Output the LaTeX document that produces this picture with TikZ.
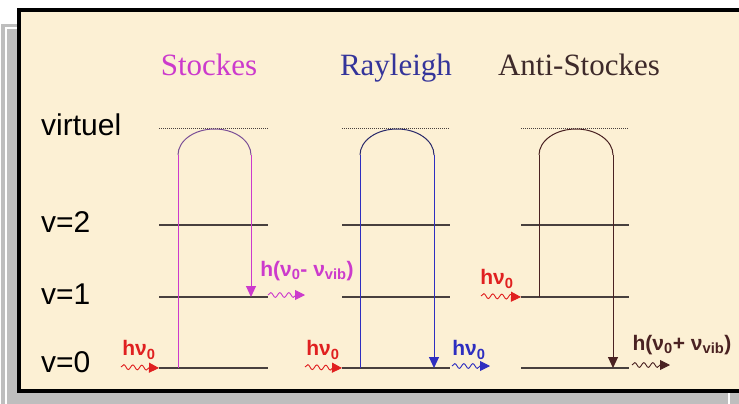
\documentclass[tikz,border=0pt]{standalone}
\usepackage{fontspec}
\setmainfont{Liberation Serif}
\newfontfamily\arialfont{Liberation Sans}
\usetikzlibrary{arrows.meta,decorations.pathmorphing}
\definecolor{cream}{HTML}{FCF0D4}
\definecolor{framegray}{HTML}{BEBEBE}
\definecolor{stkcol}{HTML}{CC3ACC}
\definecolor{stkarc}{HTML}{7A4E96}
\definecolor{raycol}{HTML}{2E2EC0}
\definecolor{raytitle}{HTML}{34349A}
\definecolor{rayarc}{HTML}{2A2A6A}
\definecolor{antcol}{HTML}{4A2222}
\definecolor{anttitle}{HTML}{3E2A2A}
\definecolor{photred}{HTML}{E02020}
\definecolor{levelcol}{HTML}{48403E}
\tikzset{
  level/.style={levelcol,line width=1.3pt},
  virt/.style={levelcol,densely dotted,line width=1pt},
  lvlabel/.style={font=\arialfont\fontsize{30}{30}\selectfont,anchor=base west,inner sep=0pt},
  title/.style={font=\fontsize{31}{31}\selectfont,anchor=base,inner sep=0pt},
  hlabel/.style={font=\arialfont\bfseries\fontsize{21}{21}\selectfont,inner sep=0pt},
  photon/.style={-{Triangle[length=10pt,width=10pt]},line width=0.9pt,decorate,
    decoration={snake,amplitude=2.4pt,segment length=9pt,post length=7pt}},
  fall/.style={-{Triangle[length=11pt,width=10pt]},line width=1pt},
  rise/.style={line width=1pt},
  hump/.style={line width=1pt},
}
\begin{document}
\begin{tikzpicture}[x=1pt,y=-1pt]
  \useasboundingbox (0,0) rectangle (739,404);
  % Frame
  \fill[framegray] (1,24) rectangle (739,404);
  \draw[white,line width=1.5pt] (6,404) -- (6,28) -- (20,28);
  \draw[white,line width=1.5pt] (729,388) -- (729,404);
  \fill[cream] (19,10) rectangle (745,391);
  \draw[line width=4pt] (19,10) rectangle (745,391);
  % Titles
  \node[title,stkcol] (tStk) at (209,75) {Stockes};
  \node[title,raytitle] (tRay) at (396,75) {Rayleigh};
  \node[title,anttitle] (tAnt) at (579,75) {Anti-Stockes};
  % Level names
  \node[lvlabel] (lVir) at (41,135) {virtuel};
  \node[lvlabel] (lTwo) at (41,232) {v=2};
  \node[lvlabel] (lOne) at (41,304) {v=1};
  \node[lvlabel] (lZero) at (41,372) {v=0};
  % Levels of the three columns
  \foreach \xa/\xb/\col in {159/268/s, 342/450/r, 521/629/a} {
    \draw[virt] (\xa,128) -- (\xb,128);
    \foreach \y/\n in {225/2, 297/1, 368/0}
      \draw[level] (\xa,\y) coordinate (\col\n w) -- (\xb,\y) coordinate (\col\n e);
  }
  % Stockes
  \coordinate (sUp) at (178,368);
  \coordinate (sDn) at (251,297);
  \draw[rise,stkcol] (sUp) -- (178,155) coordinate (sA);
  \draw[hump,stkarc] (sA) arc[start angle=180,end angle=0,x radius=36.5pt,y radius=26pt] coordinate (sB);
  \draw[fall,stkcol] (sB) -- (sDn);
  \node[hlabel,photred] (sInL) at (139,350) {hν\textsubscript{0}};
  \coordinate (sInS) at (121,367);
  \draw[photon,photred] (sInS) -- (s0w);
  \node[hlabel,stkcol] (sOutL) at (307,271) {h(ν\textsubscript{0}- ν\textsubscript{vib})};
  \coordinate (sOutS) at (268,295);
  \coordinate (sOutE) at (305,295);
  \draw[photon,stkcol] (sOutS) -- (sOutE);
  % Rayleigh
  \coordinate (rUp) at (360,368);
  \coordinate (rDn) at (434,368);
  \draw[rise,raycol] (rUp) -- (360,155) coordinate (rA);
  \draw[hump,rayarc] (rA) arc[start angle=180,end angle=0,x radius=37pt,y radius=26pt] coordinate (rB);
  \draw[fall,raycol] (rB) -- (rDn);
  \node[hlabel,photred] (rInL) at (323,350) {hν\textsubscript{0}};
  \coordinate (rInS) at (305,367);
  \draw[photon,photred] (rInS) -- (r0w);
  \node[hlabel,raycol] (rOutL) at (469,350) {hν\textsubscript{0}};
  \coordinate (rOutS) at (452,366);
  \coordinate (rOutE) at (490,366);
  \draw[photon,raycol] (rOutS) -- (rOutE);
  % Anti-Stockes
  \coordinate (aUp) at (539,297);
  \coordinate (aDn) at (613,368);
  \draw[rise,antcol] (aUp) -- (539,155) coordinate (aA);
  \draw[hump,antcol] (aA) arc[start angle=180,end angle=0,x radius=37pt,y radius=26pt] coordinate (aB);
  \draw[fall,antcol] (aB) -- (aDn);
  \node[hlabel,photred] (aInL) at (497,279) {hν\textsubscript{0}};
  \coordinate (aInS) at (481,296);
  \draw[photon,photred] (aInS) -- (a1w);
  \node[hlabel,antcol] (aOutL) at (682,345) {h(ν\textsubscript{0}+ ν\textsubscript{vib})};
  \coordinate (aOutS) at (632,365);
  \coordinate (aOutE) at (670,365);
  \draw[photon,antcol] (aOutS) -- (aOutE);
\end{tikzpicture}
\end{document}
